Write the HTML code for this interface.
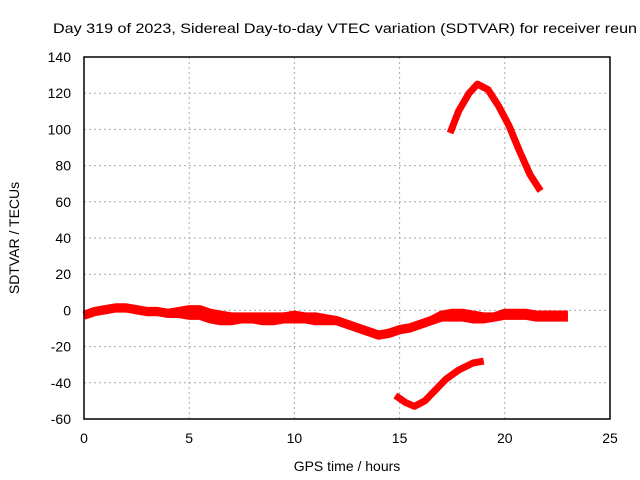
<!DOCTYPE html>
<html><head><meta charset="utf-8"><style>
body{margin:0;background:#fff;}
svg{display:block;font-family:"Liberation Sans",sans-serif;}
</style></head><body>
<svg id="chart" width="640" height="480">
<text x="53" y="33" font-size="14" textLength="584" lengthAdjust="spacingAndGlyphs" fill="#000">Day 319 of 2023, Sidereal Day-to-day VTEC variation (SDTVAR) for receiver reun</text>
<text transform="translate(19,238) rotate(-90)" text-anchor="middle" font-size="14">SDTVAR / TECUs</text>
<text x="347" y="471" text-anchor="middle" font-size="14">GPS time / hours</text>
<g id="grid"></g>
<g id="ticks"></g>
<g id="series"></g>
<rect x="84" y="57" width="526" height="362" fill="none" stroke="#000" stroke-width="1.5"/>
</svg>
<script>
const xTicks=[0,5,10,15,20,25];
const yTicks=[-60,-40,-20,0,20,40,60,80,100,120,140];
const mainHours=[0,0.5,1,1.5,2,2.5,3,3.5,4,4.5,5,5.5,6,6.5,7,7.5,8,8.5,9,9.5,10,10.5,11,11.5,12,12.5,13,13.5,14,14.5,15,15.5,16,16.5,17,17.5,18,18.5,19,19.5,20,20.5,21,21.5,22,22.5,23];
const mainValues=[-3,-1,0,1,1,0,-1,-1,-2,-2,-3,-3,-5,-6,-6,-5,-5,-6,-6,-5,-5,-5,-6,-6,-6,-8,-10,-12,-14,-13,-11,-10,-8,-6,-4,-4,-4,-5,-5,-4,-3,-3,-3,-4,-4,-4,-4];
const upperValues=[-2,0,1,2,2,1,0,0,-1,0,1,1,-1,-2,-3,-3,-3,-3,-3,-3,-2,-3,-3,-4,-5,-7,-9,-11,-13,-12,-10,-9,-7,-5,-2,-1,-1,-2,-3,-3,-1,-1,-1,-2,-2,-2,-2];
const arcHours=[17.4,17.8,18.3,18.7,19.2,19.7,20.2,20.7,21.2,21.7];
const arcValues=[98,110,120,125,122,113,102,88,75,66];
const lowHours=[14.8,15.3,15.7,16.2,16.7,17.2,17.8,18.5,19];
const lowValues=[-47,-51,-53,-50,-44,-38,-33,-29,-28];
const X=v=>84+v/25*526, Y=v=>419-(v+60)/200*362;
const ns="http://www.w3.org/2000/svg";
function mk(tag,attrs,parent){const e=document.createElementNS(ns,tag);for(const k in attrs)e.setAttribute(k,attrs[k]);document.getElementById(parent).appendChild(e);return e;}
xTicks.forEach(t=>{
 if(t>0&&t<25){const g=mk('line',{x1:X(t),x2:X(t),y1:57,y2:419,stroke:'#aaa','stroke-dasharray':'2,3'},'grid');
 
 }
 const l=mk('text',{x:X(t),y:443,'text-anchor':'middle','font-size':14},'ticks');l.textContent=t;
 
 
});
yTicks.forEach(t=>{
 if(t>-60&&t<140){const g=mk('line',{x1:84,x2:610,y1:Y(t),y2:Y(t),stroke:'#aaa','stroke-dasharray':'2,3'},'grid');
 
 }
 const l=mk('text',{x:71,y:Y(t)+5,'text-anchor':'end','font-size':14},'ticks');l.textContent=t;
 
 
});
function line(xs,ys,w,name){const p=mk('polyline',{points:xs.map((x,i)=>X(x)+','+Y(ys[i])).join(' '),fill:'none',stroke:'#f00','stroke-width':w,'stroke-linejoin':'round','stroke-linecap':'butt'},'series');
 
 }
line(mainHours,mainValues,8,'main-band-series');
line(mainHours,upperValues,7,'main-band-upper-series');
line(arcHours,arcValues,7,'upper-arc-series');
line(lowHours,lowValues,7,'lower-arc-series');
</script>
</body></html>
